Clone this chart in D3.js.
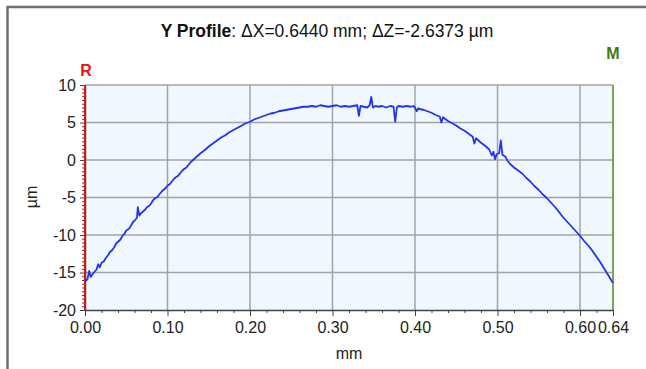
<!DOCTYPE html>
<html>
<head>
<meta charset="utf-8">
<script src="https://cdn.jsdelivr.net/npm/d3@7"></script>
<style>
  html, body { margin: 0; padding: 0; background: #fff; }
  svg { display: block; font-family: "Liberation Sans", Arial, sans-serif; }
</style>
</head>
<body>
<svg id="chart" width="646" height="369"></svg>
<script>
// Profile trace: [position (mm), height (µm)]
const profile = [
  [0.000,-16.2],[0.003,-15.9],[0.005,-14.8],[0.007,-15.6],[0.010,-15.1],[0.014,-14.6],
  [0.016,-13.9],[0.018,-14.3],[0.020,-13.7],[0.023,-13.5],[0.025,-13.1],[0.028,-12.7],
  [0.030,-12.3],[0.033,-12.0],[0.035,-11.7],[0.038,-11.1],[0.040,-10.9],[0.043,-10.6],
  [0.045,-10.2],[0.048,-9.8],[0.050,-9.4],[0.053,-9.2],[0.055,-8.9],[0.058,-8.3],
  [0.060,-8.1],[0.063,-7.7],[0.064,-6.3],[0.066,-7.4],[0.068,-7.1],[0.070,-6.9],
  [0.073,-6.6],[0.075,-6.3],[0.078,-6.1],[0.080,-5.8],[0.083,-5.3],[0.085,-5.1],
  [0.088,-4.9],[0.090,-4.6],[0.093,-4.2],[0.095,-4.0],[0.098,-3.7],[0.100,-3.4],
  [0.103,-3.2],[0.105,-2.9],[0.108,-2.5],[0.110,-2.3],[0.113,-2.1],[0.115,-1.8],
  [0.118,-1.4],[0.120,-1.2],[0.123,-1.0],[0.125,-0.7],[0.128,-0.3],[0.130,-0.1],
  [0.133,0.2],[0.135,0.4],[0.138,0.7],[0.140,0.9],[0.145,1.3],[0.150,1.8],
  [0.155,2.2],[0.160,2.6],[0.165,3.0],[0.170,3.3],[0.175,3.7],[0.180,4.0],
  [0.185,4.3],[0.190,4.6],[0.195,4.9],[0.200,5.1],[0.205,5.4],[0.210,5.6],
  [0.215,5.8],[0.220,6.0],[0.225,6.2],[0.230,6.3],[0.235,6.5],[0.240,6.6],
  [0.245,6.7],[0.250,6.8],[0.255,6.9],[0.260,7.0],[0.265,7.1],[0.270,7.1],
  [0.275,7.2],[0.280,7.1],[0.285,7.3],[0.290,7.2],[0.295,7.1],[0.300,7.2],
  [0.305,7.3],[0.310,7.1],[0.315,7.2],[0.320,7.1],[0.325,7.2],[0.330,7.3],
  [0.332,5.9],[0.334,7.2],[0.338,7.1],[0.342,7.0],[0.345,7.3],[0.347,8.4],
  [0.349,7.0],[0.352,7.2],[0.356,7.1],[0.360,7.2],[0.365,7.0],[0.370,7.2],
  [0.374,7.1],[0.376,5.1],[0.378,7.0],[0.380,7.2],[0.385,7.1],[0.390,7.2],
  [0.395,7.1],[0.398,7.2],[0.400,7.0],[0.402,6.5],[0.404,6.9],[0.405,6.8],
  [0.410,6.7],[0.415,6.5],[0.420,6.3],[0.425,6.0],[0.430,5.8],[0.432,5.0],
  [0.434,5.7],[0.440,5.2],[0.445,4.9],[0.450,4.6],[0.455,4.2],[0.460,3.9],
  [0.465,3.5],[0.470,3.1],[0.472,2.2],[0.474,2.9],[0.480,2.3],[0.485,1.9],
  [0.490,1.4],[0.493,0.6],[0.495,1.1],[0.497,0.1],[0.499,0.8],[0.502,0.9],
  [0.504,2.6],[0.506,0.7],[0.510,0.4],[0.512,-0.1],[0.515,-0.5],[0.520,-1.0],
  [0.525,-1.4],[0.530,-1.8],[0.535,-2.4],[0.540,-2.9],[0.545,-3.5],[0.550,-4.0],
  [0.555,-4.6],[0.560,-5.1],[0.565,-5.7],[0.570,-6.3],[0.575,-7.0],[0.580,-7.7],
  [0.585,-8.3],[0.590,-8.9],[0.595,-9.5],[0.600,-10.1],[0.605,-10.8],[0.610,-11.4],
  [0.615,-12.1],[0.620,-12.9],[0.625,-13.7],[0.630,-14.6],[0.635,-15.5],[0.640,-16.4]
];

const xMajorTicks = [0, 0.1, 0.2, 0.3, 0.4, 0.5, 0.6, 0.64];
const xTickLabels = ["0.00", "0.10", "0.20", "0.30", "0.40", "0.50", "0.60", "0.64"];
const xMinorTicks = [0.02,0.04,0.06,0.08,0.12,0.14,0.16,0.18,0.22,0.24,0.26,0.28,
                     0.32,0.34,0.36,0.38,0.42,0.44,0.46,0.48,0.52,0.54,0.56,0.58,0.62];
const yMajorTicks = [10, 5, 0, -5, -10, -15, -20];
const yTickLabels = ["10", "5", "0", "-5", "-10", "-15", "-20"];
const xDomain = [0, 0.64];
const yDomain = [-20, 10];

const titleBold = "Y Profile";
const titleRest = ": \u0394X=0.6440 mm; \u0394Z=-2.6373 \u00b5m";
const xLabel = "mm";
const yLabel = "\u00b5m";

const svg = d3.select("#chart");
const plot = { left: 85, right: 613, top: 85, bottom: 310 };

const x = d3.scaleLinear().domain(xDomain).range([plot.left, plot.right]);
const y = d3.scaleLinear().domain(yDomain).range([plot.bottom, plot.top]);

// outer frame (top and left edges)
svg.append("path")
  .attr("d", "M7.5,369 L7.5,7 L646,7")
  .attr("fill", "none").attr("stroke", "#707070").attr("stroke-width", 2.5);

// title
const title = svg.append("text")
  .attr("x", 327).attr("y", 37)
  .attr("text-anchor", "middle")
  .attr("font-size", 17.5).attr("fill", "#111");
title.append("tspan").attr("font-weight", "bold").text(titleBold);
title.append("tspan").text(titleRest);

// plot background
svg.append("rect")
  .attr("x", plot.left).attr("y", plot.top)
  .attr("width", plot.right - plot.left).attr("height", plot.bottom - plot.top)
  .attr("fill", "#f1f7fe");

// grid
const gridX = [0.1, 0.2, 0.3, 0.4, 0.5, 0.6];
svg.append("g").selectAll("line").data(gridX).join("line")
  .attr("x1", d => x(d)).attr("x2", d => x(d))
  .attr("y1", plot.top).attr("y2", plot.bottom)
  .attr("stroke", "#a3a3a3").attr("stroke-width", 1.5);
svg.append("g").selectAll("line").data(yMajorTicks.filter(v => v > -20)).join("line")
  .attr("x1", plot.left).attr("x2", plot.right)
  .attr("y1", d => y(d)).attr("y2", d => y(d))
  .attr("stroke", "#a3a3a3").attr("stroke-width", 1.5);

// x axis (major + minor ticks)
const xAxis = svg.append("g").attr("transform", `translate(0,${plot.bottom})`)
  .call(d3.axisBottom(x).tickValues(xMajorTicks)
    .tickFormat((d, i) => xTickLabels[i]).tickSize(6).tickSizeOuter(0));
svg.append("g").attr("transform", `translate(0,${plot.bottom})`)
  .call(d3.axisBottom(x).tickValues(xMinorTicks).tickFormat("").tickSize(3).tickSizeOuter(0))
  .call(g => g.select(".domain").remove());

// y axis (major + minor ticks)
const yMinorTicks = d3.range(-20, 10.01, 0.5).filter(v => v % 5 !== 0);
const yAxis = svg.append("g").attr("transform", `translate(${plot.left},0)`)
  .call(d3.axisLeft(y).tickValues(yMajorTicks)
    .tickFormat((d, i) => yTickLabels[i]).tickSize(5).tickSizeOuter(0));
svg.append("g").attr("transform", `translate(${plot.left},0)`)
  .call(d3.axisLeft(y).tickValues(yMinorTicks).tickFormat("").tickSize(3).tickSizeOuter(0))
  .call(g => g.select(".domain").remove());

svg.selectAll(".tick line").attr("stroke", "#444");
svg.selectAll(".domain").attr("stroke", "#444").attr("stroke-width", 1.5);
xAxis.selectAll(".tick text").attr("font-size", 16).attr("fill", "#222").attr("dy", "0.85em");
yAxis.selectAll(".tick text").attr("font-size", 16).attr("fill", "#222").attr("dx", "-1px");

// reference (R) and measure (M) cursor lines
svg.append("line")
  .attr("x1", x(0)).attr("x2", x(0)).attr("y1", plot.top).attr("y2", plot.bottom)
  .attr("stroke", "#e01010").attr("stroke-width", 2);
svg.append("line")
  .attr("x1", x(0.64)).attr("x2", x(0.64)).attr("y1", plot.top).attr("y2", plot.bottom)
  .attr("stroke", "#78a850").attr("stroke-width", 2);
svg.append("text").attr("x", x(0) + 1).attr("y", 76).attr("text-anchor", "middle")
  .attr("font-size", 16).attr("font-weight", "bold").attr("fill", "#ee1111").text("R");
svg.append("text").attr("x", x(0.64)).attr("y", 59).attr("text-anchor", "middle")
  .attr("font-size", 16).attr("font-weight", "bold").attr("fill", "#3c7a1c").text("M");

// profile trace
svg.append("path")
  .datum(profile)
  .attr("fill", "none")
  .attr("stroke", "#1f35f0")
  .attr("stroke-width", 1.8)
  .attr("stroke-linejoin", "round")
  .attr("d", d3.line().x(d => x(d[0])).y(d => y(d[1])));

// axis titles
svg.append("text").attr("x", 349).attr("y", 359).attr("text-anchor", "middle")
  .attr("font-size", 16).attr("fill", "#222").text(xLabel);
svg.append("text").attr("transform", "translate(37,197) rotate(-90)")
  .attr("text-anchor", "middle").attr("font-size", 16).attr("fill", "#222").text(yLabel);
</script>
</body>
</html>
